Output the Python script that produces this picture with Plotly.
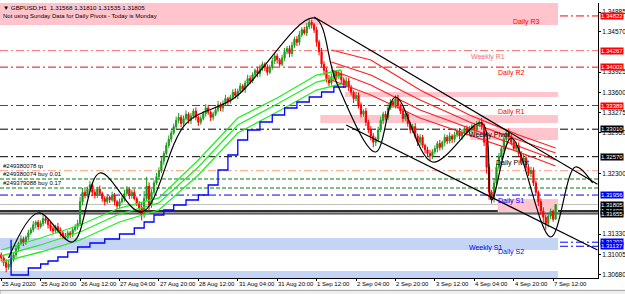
import plotly.graph_objects as go

# ---------------- data ----------------
time_labels = ["25 Aug 2020", "25 Aug 20:00", "26 Aug 12:00", "27 Aug 04:00", "27 Aug 20:00",
               "28 Aug 12:00", "31 Aug 04:00", "31 Aug 20:00", "1 Sep 12:00", "2 Sep 04:00",
               "2 Sep 20:00", "3 Sep 12:00", "4 Sep 04:00", "4 Sep 20:00", "7 Sep 12:00"]
time_label_bars = [0, 16, 32, 48, 64, 80, 96, 112, 128, 144, 160, 176, 192, 208, 224]

first_open = 1.3100
close = [
    1.3095, 1.3088, 1.3080, 1.3085, 1.3092, 1.3100, 1.3110, 1.3118, 1.3125, 1.3120,
    1.3128, 1.3135, 1.3140, 1.3148, 1.3152, 1.3145, 1.3150, 1.3158, 1.3155, 1.3148,
    1.3142, 1.3138, 1.3145, 1.3140, 1.3135, 1.3130, 1.3128, 1.3135, 1.3132, 1.3140,
    1.3145, 1.3150, 1.3185, 1.3200, 1.3195, 1.3205, 1.3212, 1.3200, 1.3195, 1.3205,
    1.3198, 1.3190, 1.3185, 1.3192, 1.3188, 1.3195, 1.3185, 1.3178, 1.3185, 1.3190,
    1.3198, 1.3205, 1.3195, 1.3200, 1.3190, 1.3182, 1.3175, 1.3165, 1.3190, 1.3210,
    1.3180, 1.3200, 1.3215, 1.3225, 1.3235, 1.3250, 1.3262, 1.3275, 1.3285, 1.3295,
    1.3305, 1.3315, 1.3320, 1.3310, 1.3318, 1.3325, 1.3315, 1.3322, 1.3330, 1.3320,
    1.3312, 1.3318, 1.3326, 1.3335, 1.3328, 1.3320, 1.3325, 1.3332, 1.3340, 1.3335,
    1.3342, 1.3350, 1.3345, 1.3352, 1.3360, 1.3355, 1.3362, 1.3370, 1.3365, 1.3375,
    1.3382, 1.3378, 1.3388, 1.3395, 1.3390, 1.3398, 1.3405, 1.3400, 1.3392, 1.3400,
    1.3410, 1.3418, 1.3412, 1.3405, 1.3415, 1.3425, 1.3430, 1.3422, 1.3435, 1.3445,
    1.3440, 1.3452, 1.3460, 1.3455, 1.3465, 1.3472, 1.3468, 1.3460, 1.3440, 1.3425,
    1.3405, 1.3395, 1.3382, 1.3375, 1.3385, 1.3392, 1.3385, 1.3390, 1.3380, 1.3372,
    1.3378, 1.3368, 1.3360, 1.3350, 1.3355, 1.3340, 1.3325, 1.3330, 1.3312, 1.3300,
    1.3290, 1.3280, 1.3285, 1.3300, 1.3315, 1.3325, 1.3320, 1.3335, 1.3345, 1.3340,
    1.3350, 1.3338, 1.3330, 1.3318, 1.3325, 1.3310, 1.3300, 1.3305, 1.3290, 1.3280,
    1.3288, 1.3275, 1.3268, 1.3262, 1.3258, 1.3265, 1.3270, 1.3278, 1.3272, 1.3280,
    1.3288, 1.3282, 1.3290, 1.3285, 1.3292, 1.3298, 1.3290, 1.3295, 1.3302, 1.3296,
    1.3300, 1.3306, 1.3300, 1.3308, 1.3312, 1.3305, 1.3280, 1.3240, 1.3200, 1.3190,
    1.3215, 1.3240, 1.3258, 1.3270, 1.3285, 1.3295, 1.3290, 1.3280, 1.3270, 1.3275,
    1.3262, 1.3250, 1.3255, 1.3240, 1.3230, 1.3235, 1.3215, 1.3200, 1.3185, 1.3170,
    1.3160, 1.3150, 1.3162, 1.3170, 1.31568, 1.31805]
# wick lengths in pips (0.0001)
up_wick = [
    4, 3, 5, 6, 3, 4, 5, 3, 6, 4, 3, 5, 4, 6, 3, 4, 5, 6, 4, 3,
    5, 4, 3, 6, 4, 3, 5, 4, 3, 5, 4, 6, 8, 7, 5, 4, 6, 3, 5, 4,
    6, 3, 4, 5, 3, 6, 4, 3, 5, 4, 6, 5, 3, 4, 5, 3, 4, 9, 12, 15,
    6, 5, 4, 6, 5, 7, 4, 5, 6, 4, 5, 6, 7, 4, 5, 6, 3, 5, 4, 6,
    3, 5, 4, 6, 5, 3, 4, 5, 6, 4, 5, 6, 3, 4, 5, 6, 4, 5, 3, 4,
    6, 5, 4, 3, 5, 6, 4, 3, 5, 4, 6, 5, 4, 3, 5, 6, 4, 5, 6, 4,
    5, 6, 4, 5, 6, 5, 4, 3, 5, 4, 6, 5, 4, 6, 5, 4, 3, 6, 5, 4,
    6, 5, 4, 3, 6, 5, 4, 3, 5, 4, 6, 5, 4, 5, 6, 4, 5, 6, 4, 3,
    5, 6, 4, 5, 6, 4, 3, 5, 6, 4, 5, 4, 3, 5, 6, 4, 5, 4, 6, 3,
    5, 4, 6, 3, 5, 4, 5, 6, 4, 5, 6, 4, 5, 6, 4, 7, 5, 6, 5, 4,
    8, 6, 5, 4, 6, 5, 7, 5, 4, 6, 5, 4, 6, 5, 4, 6, 5, 4, 3, 5,
    6, 4, 5, 4, 2, 0.05]
dn_wick = [
    5, 6, 8, 4, 5, 3, 4, 5, 3, 6, 4, 5, 3, 4, 6, 5, 3, 4, 5, 6,
    4, 5, 3, 4, 6, 5, 4, 3, 5, 4, 3, 5, 4, 6, 5, 3, 4, 6, 5, 4,
    3, 5, 6, 4, 5, 3, 6, 5, 4, 3, 5, 4, 6, 5, 3, 4, 6, 10, 6, 4,
    12, 5, 4, 3, 5, 4, 6, 3, 4, 5, 3, 4, 5, 6, 4, 3, 5, 6, 4, 5,
    6, 4, 3, 5, 4, 6, 5, 3, 4, 5, 6, 4, 5, 3, 4, 5, 6, 4, 5, 6,
    4, 5, 3, 4, 6, 5, 4, 6, 5, 3, 4, 5, 6, 4, 3, 5, 4, 6, 5, 4,
    6, 5, 4, 3, 5, 4, 6, 5, 7, 6, 5, 8, 6, 5, 4, 6, 5, 4, 6, 5,
    4, 6, 5, 7, 4, 6, 5, 4, 6, 5, 7, 8, 6, 5, 4, 6, 5, 4, 3, 5,
    6, 4, 5, 6, 4, 5, 6, 5, 4, 6, 5, 4, 6, 5, 7, 5, 4, 6, 5, 4,
    6, 5, 4, 6, 5, 4, 5, 6, 4, 5, 6, 4, 5, 6, 4, 5, 6, 10, 12, 8,
    6, 5, 4, 6, 5, 4, 6, 5, 4, 6, 5, 4, 6, 5, 4, 6, 5, 6, 7, 6,
    8, 10, 6, 5, 4, 0.33]

# moving-average bands (sampled)
green_bars = [0, 16, 32, 48, 64, 80, 96, 112, 128, 138]
green1 = [1.31077, 1.31269, 1.31477, 1.31749, 1.31909, 1.32517, 1.33189, 1.33509, 1.33877, 1.33957]
green2 = [1.30981, 1.31157, 1.31365, 1.31653, 1.31829, 1.32405, 1.33077, 1.33413, 1.33765, 1.33861]
green3 = [1.30885, 1.31045, 1.31237, 1.31525, 1.31717, 1.32277, 1.32949, 1.33285, 1.33637, 1.33733]
red_bars = [134, 150, 170, 190, 210, 225]
red1 = [1.34277, 1.34117, 1.33637, 1.33237, 1.32917, 1.32709]
red2 = [1.34085, 1.33877, 1.33477, 1.33125, 1.32837, 1.32629]
red3 = [1.33957, 1.33717, 1.33317, 1.33029, 1.32741, 1.32517]
red4 = [1.33797, 1.33557, 1.33189, 1.32917, 1.32645, 1.32421]
blue_bars = [4, 4, 11, 16, 19, 23, 27, 31, 36, 42, 48, 54, 58, 62, 66, 70, 75, 80, 84, 88,
             92, 96, 100, 105, 110, 115, 120, 125, 130, 135, 140]
blue_vals = [1.3124, 1.30677, 1.30789, 1.30853, 1.30901, 1.30965, 1.31045, 1.31125, 1.31189, 1.31253,
             1.31333, 1.31429, 1.31525, 1.31637, 1.31717, 1.31797, 1.31877, 1.31957, 1.32117, 1.32357,
             1.32597, 1.32837, 1.32997, 1.33125, 1.33237, 1.33349, 1.33445, 1.33525, 1.33605, 1.33685,
             1.33685]

zz_bars = [3, 15, 29, 40, 57, 75, 95, 127, 136, 152, 160, 175, 195, 199, 207, 223, 233, 240]
zz_vals = [1.30949, 1.31669, 1.31205, 1.32309, 1.31685, 1.33100, 1.33520, 1.34789, 1.33765, 1.32645,
           1.33525, 1.32485, 1.33109, 1.31877, 1.32869, 1.31285, 1.32405, 1.32149]

chan_upper_bars = [127, 242]
chan_upper_vals = [1.34805, 1.32130]
chan_lower_bars = [140, 242]
chan_lower_vals = [1.33077, 1.31077]

# pivot / order levels
level_prices = [1.34822, 1.34267, 1.34003, 1.33389, 1.33010, 1.32570, 1.32346, 1.32213, 1.32069,
                1.31956, 1.31202, 1.31137]
level_names = ["Daily R3", "Weekly R1", "Daily R2", "Daily R1", "Weekly Pivot", "Daily Pivot", "", "", "",
               "Daily S1", "Weekly S1", "Daily S2"]
level_label_bars = [207, 190, 201, 201, 189, 200, 0, 0, 0, 201, 189, 201]
level_colors = ["#ff0000", "#f07070", "#ff0000", "#ff0000", "#000000", "#000000", "#ff9f80", "#008000",
                "#008000", "#0000ff", "#0000ff", "#0000ff"]
solid_prices = [1.31805, 1.31699, 1.31655]
solid_colors = ["#c0c0c0", "#303030", "#000000"]
solid_widths = [1, 2.5, 1]

pink_zones = [(0, 226, 1.34677, 1.35029), (140, 226, 1.33525, 1.33605), (130, 226, 1.33109, 1.33237),
              (191, 226, 1.32837, 1.33029), (202, 226, 1.31685, 1.31893)]
blue_zones = [(0, 226, 1.31077, 1.31269), (0, 226, 1.30629, 1.30741)]

axis_ticks = [1.34885, 1.34570, 1.33925, 1.33600, 1.33275, 1.32950, 1.32300, 1.31330, 1.31005, 1.30680]
boxed_prices = [1.34822, 1.34267, 1.34003, 1.33389, 1.33010, 1.32570, 1.31956, 1.31805, 1.31699,
                1.31655, 1.31202, 1.31137]
boxed_colors = ["#ff0000", "#ff0000", "#ff0000", "#ff0000", "#000000", "#000000", "#0000ff", "#000000",
                "#000000", "#000000", "#0000ff", "#0000ff"]

order_labels = ["#249380078 tp", "#249380074 buy 0.01", "#249379088 buy 0.17"]
order_prices = [1.32346, 1.32213, 1.32069]

header = "▼ GBPUSD,H1  1.31568 1.31810 1.31535 1.31805"
note = "Not using Sunday Data for Daily Pivots - Today is Monday"

# ---------------- build ----------------
n = len(close)
bars = list(range(n))
opens = [first_open] + close[:-1]
highs = [max(o, c) + w / 10000 for o, c, w in zip(opens, close, up_wick)]
lows = [min(o, c) - w / 10000 for o, c, w in zip(opens, close, dn_wick)]

FONT = "Liberation Sans"
fig = go.Figure()

shapes = []
for x0, x1, y0, y1 in pink_zones:
    shapes.append(dict(type="rect", xref="x", yref="y", x0=x0 - 0.5, x1=x1, y0=y0, y1=y1,
                       fillcolor="#ffc4cc", line=dict(width=0), layer="below"))
for x0, x1, y0, y1 in blue_zones:
    shapes.append(dict(type="rect", xref="x", yref="y", x0=x0 - 0.5, x1=x1, y0=y0, y1=y1,
                       fillcolor="#c4d4f4", line=dict(width=0), layer="below"))
for p, c in zip(level_prices, level_colors):
    dash = "4px,2px" if c == "#008000" else "8px,3px,2px,3px"
    shapes.append(dict(type="line", xref="paper", yref="y", x0=0, x1=1, y0=p, y1=p,
                       line=dict(color=c, width=1, dash=dash), layer="below"))
for p, c, w in zip(solid_prices, solid_colors, solid_widths):
    shapes.append(dict(type="line", xref="paper", yref="y", x0=0, x1=1, y0=p, y1=p,
                       line=dict(color=c, width=w), layer="below"))
# bottom tab strip of the terminal window
shapes.append(dict(type="rect", xref="paper", yref="paper", x0=0, x1=1.05, y0=-0.06, y1=-0.045,
                   fillcolor="#f0f0f0", line=dict(color="#a0a0a0", width=1), layer="below"))

fig.add_trace(go.Candlestick(x=bars, open=opens, high=highs, low=lows, close=close,
                             increasing=dict(line=dict(color="#1f9a1f", width=1), fillcolor="#1f9a1f"),
                             decreasing=dict(line=dict(color="#ff0000", width=1), fillcolor="#ff0000"),
                             whiskerwidth=0, showlegend=False, hoverinfo="skip"))

for g in (green1, green2, green3):
    fig.add_trace(go.Scatter(x=green_bars, y=g, mode="lines", line=dict(color="#22ee22", width=1.3),
                             showlegend=False, hoverinfo="skip"))
for r in (red1, red2, red3, red4):
    fig.add_trace(go.Scatter(x=red_bars, y=r, mode="lines", line=dict(color="#ff2020", width=1.2),
                             showlegend=False, hoverinfo="skip"))
fig.add_trace(go.Scatter(x=blue_bars, y=blue_vals, mode="lines", line=dict(color="#0000ff", width=1.3, shape="hv"),
                         showlegend=False, hoverinfo="skip"))
fig.add_trace(go.Scatter(x=zz_bars, y=zz_vals, mode="lines", line=dict(color="#000000", width=1.2, shape="spline", smoothing=1.0),
                         showlegend=False, hoverinfo="skip"))
for bx, by in ((chan_upper_bars, chan_upper_vals), (chan_lower_bars, chan_lower_vals)):
    fig.add_trace(go.Scatter(x=bx, y=by, mode="lines", line=dict(color="#000000", width=1.2),
                             showlegend=False, hoverinfo="skip"))

ann = []
for name, p, b, c in zip(level_names, level_prices, level_label_bars, level_colors):
    if name:
        ann.append(dict(x=b, y=p, xref="x", yref="y", text=name, showarrow=False, xanchor="left",
                        yanchor="top", font=dict(family=FONT, size=7, color=c)))
for p, c in zip(boxed_prices, boxed_colors):
    ann.append(dict(x=1, y=p, xref="paper", yref="y", text=f"{p:.5f}", showarrow=False, xanchor="left",
                    yanchor="middle", xshift=2, bgcolor=c, borderpad=0,
                    font=dict(family=FONT, size=6, color="#ffffff")))
for t, p in zip(order_labels, order_prices):
    ann.append(dict(x=0, y=p, xref="paper", yref="y", text=t, showarrow=False, xanchor="left",
                    yanchor="bottom", xshift=1, font=dict(family=FONT, size=6, color="#000000")))
for t, b in zip(time_labels, time_label_bars):
    ann.append(dict(x=b - 0.5, y=0, xref="x", yref="paper", text=t, showarrow=False, xanchor="left",
                    yanchor="top", yshift=-1, font=dict(family=FONT, size=6, color="#000000")))
ann.append(dict(x=0, y=1, xref="paper", yref="paper", text=header, showarrow=False, xanchor="left",
                yanchor="top", xshift=1, yshift=1, font=dict(family=FONT, size=6.2, color="#000000")))
ann.append(dict(x=0, y=1, xref="paper", yref="paper", text=note, showarrow=False, xanchor="left",
                yanchor="top", xshift=1, yshift=-8, font=dict(family=FONT, size=6, color="#000000")))

fig.update_layout(
    width=625, height=294, margin=dict(l=0, r=27, t=3, b=16),
    paper_bgcolor="#ffffff", plot_bgcolor="#ffffff",
    shapes=shapes, annotations=ann, showlegend=False,
    xaxis=dict(range=[-0.5, 242.2], showgrid=False, zeroline=False, rangeslider=dict(visible=False),
               tickvals=time_label_bars, ticks="outside", ticklen=2, tickcolor="#000000",
               showticklabels=False, showline=True, linecolor="#000000", linewidth=1, fixedrange=True),
    yaxis=dict(range=[1.30629, 1.35029], side="right", showgrid=False, zeroline=False,
               tickvals=axis_ticks, ticktext=[f"{v:.5f}" for v in axis_ticks], ticks="outside",
               ticklen=2, tickcolor="#000000", tickfont=dict(family=FONT, size=6.5, color="#000000"),
               showline=True, linecolor="#000000", linewidth=1, fixedrange=True),
)

fig.write_html("out.html")
